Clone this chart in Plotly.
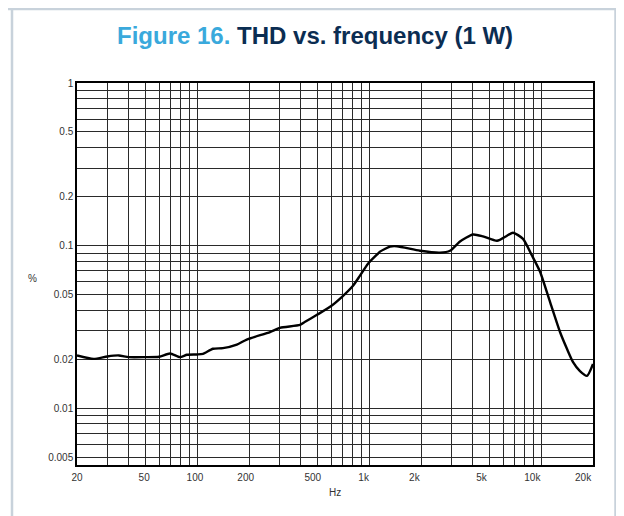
import math
import plotly.graph_objects as go

# ---- data ----
freq_hz = [20, 25, 30, 35, 40, 50, 60, 69.5, 79.4, 87.2, 100, 108, 123.5, 141, 170, 194,
           265, 303, 396, 424, 497, 592, 695, 805, 884, 984, 1125, 1155, 1322, 1450,
           1972, 2579, 2950, 3372, 4010, 4585, 5535, 6325, 6855, 7838, 8833, 9845,
           11250, 12860, 14130, 15310, 16800, 18460, 20000]
thd_pct = [0.0211, 0.0201, 0.0208, 0.0211, 0.0206, 0.0206, 0.0207, 0.0217, 0.0206, 0.0213,
           0.0214, 0.0216, 0.0232, 0.0234, 0.0246, 0.0264,
           0.0294, 0.0312, 0.0325, 0.034, 0.0375, 0.042, 0.0484, 0.0566, 0.0653, 0.0774,
           0.0893, 0.0918, 0.0986, 0.0990,
           0.093, 0.0905, 0.093, 0.106, 0.117, 0.114, 0.107, 0.115, 0.120, 0.110, 0.0868,
           0.069, 0.045, 0.0294, 0.0231, 0.0192, 0.0169, 0.0158, 0.0187]

x_grid = [20, 30, 40, 50, 60, 70, 80, 90, 100, 200, 300, 400, 500, 600, 700, 800, 900,
          1000, 2000, 3000, 4000, 5000, 6000, 7000, 8000, 9000, 10000, 20000]
x_label_vals = [20, 50, 100, 200, 500, 1000, 2000, 5000, 10000, 20000]
x_label_text = ["20", "50", "100", "200", "500", "1k", "2k", "5k", "10k", "20k"]

y_grid = [0.005, 0.006, 0.007, 0.008, 0.009, 0.01, 0.02, 0.03, 0.04, 0.05, 0.06, 0.07,
          0.08, 0.09, 0.1, 0.2, 0.3, 0.4, 0.5, 0.6, 0.7, 0.8, 0.9, 1]
y_label_vals = [1, 0.5, 0.2, 0.1, 0.05, 0.02, 0.01, 0.005]
y_label_text = ["1", "0.5", "0.2", "0.1", "0.05", "0.02", "0.01", "0.005"]

title_prefix = "Figure 16."
title_main = "THD vs. frequency (1 W)"
x_title = "Hz"
y_title = "%"

# ---- layout geometry (page pixels; the figure sits at an 8px page offset) ----
OFF = 8
W, H = 616, 508
L, T = 77 - OFF, 83 - OFF
PW, PH = 516, 382
R, B = W - L - PW, H - T - PH


def px_x(px):
    return (px - OFF - L) / PW


def px_y(py):
    return (T + PH - (py - OFF)) / PH


FONT = "Liberation Sans, Arial, sans-serif"
GRID = "#2a2a2a"
FRAME = "#c8d2db"

fig = go.Figure()
fig.add_trace(go.Scatter(x=freq_hz, y=thd_pct, mode="lines",
                         line=dict(color="#000000", width=2.4, shape="spline", smoothing=0.6),
                         hoverinfo="skip", showlegend=False))
# placeholder so the label axis is created
fig.add_trace(go.Scatter(x=[x_label_vals[0]], y=[None], xaxis="x2", mode="markers",
                         showlegend=False, hoverinfo="skip"))

x0 = math.log10(20)
fig.update_layout(
    width=W, height=H,
    margin=dict(l=L, r=R, t=T, b=B, pad=0),
    paper_bgcolor="white", plot_bgcolor="white",
    font=dict(family=FONT, size=10, color="#333333"),
    xaxis=dict(type="log", range=[x0, math.log10(20000)],
               tickmode="array", tickvals=x_grid, showticklabels=False,
               showgrid=True, gridcolor=GRID, gridwidth=1,
               showline=True, linecolor="#000000", linewidth=1.5, mirror=True,
               ticks="", zeroline=False),
    xaxis2=dict(type="log", overlaying="x", side="bottom",
                range=[x0, x0 + PW / 168.7], tickmode="array",
                tickvals=x_label_vals, ticktext=x_label_text,
                showgrid=False, showline=False, ticks="", zeroline=False,
                ticklabelstandoff=5,
                tickfont=dict(family=FONT, size=10, color="#333333")),
    yaxis=dict(type="log", range=[math.log10(0.00447), 0],
               tickmode="array", tickvals=y_grid,
               ticktext=[y_label_text[y_label_vals.index(v)] if v in y_label_vals else ""
                         for v in y_grid],
               showgrid=True, gridcolor=GRID, gridwidth=1,
               showline=True, linecolor="#000000", linewidth=1.5, mirror=True,
               ticks="", zeroline=False,
               tickfont=dict(family=FONT, size=10, color="#333333")),
)

fig.add_annotation(xref="paper", yref="paper", x=px_x(315), y=px_y(35),
                   xanchor="center", yanchor="middle", showarrow=False,
                   text=f"<b><span style='color:#3aa9dc'>{title_prefix}</span> {title_main}</b>",
                   font=dict(family=FONT, size=24, color="#0b2d52"))
fig.add_annotation(xref="paper", yref="paper", x=px_x(335), y=px_y(492),
                   xanchor="center", yanchor="middle", showarrow=False,
                   text=x_title, font=dict(family=FONT, size=10, color="#333333"))
fig.add_annotation(xref="paper", yref="paper", x=px_x(32), y=px_y(278),
                   xanchor="center", yanchor="middle", showarrow=False,
                   text=y_title, font=dict(family=FONT, size=10, color="#333333"))

# page frame
for (xa, ya, xb, yb) in [(8, 9, 616, 9), (12, 8, 12, 520), (615.5, 8, 615.5, 520)]:
    fig.add_shape(type="line", xref="paper", yref="paper",
                  x0=px_x(xa), y0=px_y(ya), x1=px_x(xb), y1=px_y(yb),
                  line=dict(color=FRAME, width=2.5))

fig.write_html("out.html")
